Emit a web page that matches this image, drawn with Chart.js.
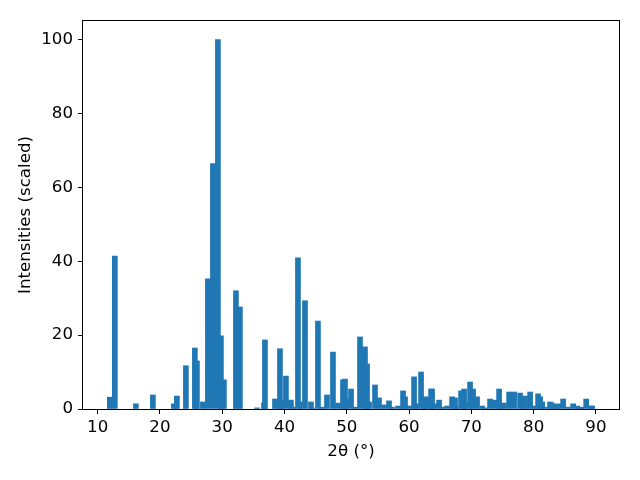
<!DOCTYPE html>
<html><head><meta charset="utf-8">
<script src="https://cdn.jsdelivr.net/npm/chart.js@4/dist/chart.umd.min.js"></script>
<style>html,body{margin:0;padding:0;background:#fff}canvas{display:block}</style>
</head><body>
<canvas id="c" width="640" height="480"></canvas>
<script>
const twoTheta = [11.96,12.76,16.14,18.87,22.24,22.72,24.17,25.61,25.94,26.90,27.70,28.51,29.31,29.79,30.27,32.20,32.84,35.57,36.70,36.86,38.47,39.27,39.43,40.23,41.03,41.36,42.16,42.48,43.29,44.25,44.41,45.37,46.02,46.82,47.78,48.59,49.39,49.71,49.87,50.68,51.32,52.12,52.92,53.25,53.57,54.53,55.17,55.98,56.78,57.26,58.23,59.03,59.35,59.99,60.80,61.12,61.92,62.40,62.72,63.53,63.69,64.01,64.81,65.29,66.10,66.90,67.38,67.54,68.34,68.83,68.99,69.79,70.27,70.91,71.72,72.20,73.00,73.65,74.45,74.61,75.25,76.06,76.86,77.82,78.30,78.62,79.43,79.91,80.71,81.04,81.36,81.84,82.64,82.96,83.28,83.60,83.93,84.73,85.53,86.34,86.98,87.30,87.62,88.43,89.23,89.39];
const intensity = [3.2,41.4,1.4,3.8,1.4,3.5,11.7,16.5,13.0,1.9,35.2,66.4,100,19.8,7.9,32.0,27.6,0.3,1.6,18.7,2.7,16.3,2.2,8.9,2.4,0.5,40.9,1.9,29.3,1.9,0.3,23.8,0.5,3.8,15.4,1.6,7.9,8.1,2.7,5.4,0.5,19.5,16.8,12.2,1.9,6.5,3.0,1.1,2.2,0.5,0.8,4.9,3.3,0.8,8.7,1.4,10.0,1.6,3.3,5.4,5.4,1.4,2.4,0.5,0.8,3.3,3.0,0.5,4.9,5.4,1.9,7.3,5.4,3.3,0.8,0.3,2.7,2.4,5.4,0.5,1.6,4.6,4.6,4.3,1.6,3.5,4.6,0.8,4.1,3.3,1.9,0.5,1.9,1.6,1.1,0.5,1.4,2.7,0.5,1.4,0.8,0.3,0.5,2.7,0.8,0.8];
const xTicks = [10,20,30,40,50,60,70,80,90];
const yTicks = [0,20,40,60,80,100];
const xTitle = '2θ (°)';
const yTitle = 'Intensities (scaled)';

const points = twoTheta.map((x, i) => ({x: x, y: intensity[i]}));
const FONT = 'DejaVu Sans';
const FS = 16.67;

const framePlugin = {
  id: 'frame',
  afterDatasetsDraw(chart) {
    const {ctx, chartArea: a} = chart;
    ctx.save();
    ctx.strokeStyle = '#000';
    ctx.lineWidth = 1;
    ctx.strokeRect(Math.round(a.left) - 0.5, Math.round(a.top) - 0.5,
                   Math.round(a.right - a.left) + 1, Math.round(a.bottom - a.top) + 1);
    ctx.restore();
  }
};

new Chart(document.getElementById('c'), {
  type: 'bar',
  data: {
    datasets: [{
      data: points,
      backgroundColor: '#1f77b4',
      borderWidth: 0,
      barThickness: 5,
      grouped: false
    }]
  },
  options: {
    responsive: false,
    animation: false,
    devicePixelRatio: 1,
    layout: {padding: {left: 0, right: 21, top: 21, bottom: 0}},
    plugins: {legend: {display: false}, tooltip: {enabled: false}},
    scales: {
      x: {
        type: 'linear',
        offset: false,
        min: 7.65, max: 93.7,
        afterBuildTicks: s => { s.ticks = xTicks.map(v => ({value: v})); },
        afterFit: s => { s.height = 71; },
        grid: {offset: false, drawOnChartArea: false, drawTicks: true, tickLength: 5, color: '#000', lineWidth: 1},
        border: {display: false},
        ticks: {color: '#000', font: {family: FONT, size: FS}, padding: 4, maxRotation: 0, autoSkip: false},
        title: {display: true, text: xTitle, color: '#000', font: {family: FONT, size: FS}, padding: {top: 0, bottom: 18}}
      },
      y: {
        min: 0, max: 105,
        afterBuildTicks: s => { s.ticks = yTicks.map(v => ({value: v})); },
        afterFit: s => { s.width = 83; },
        grid: {offset: false, drawOnChartArea: false, drawTicks: true, tickLength: 5, color: '#000', lineWidth: 1},
        border: {display: false},
        ticks: {color: '#000', font: {family: FONT, size: FS}, padding: 5, autoSkip: false},
        title: {display: true, text: yTitle, color: '#000', font: {family: FONT, size: FS}, padding: {top: 16, bottom: 0}}
      }
    }
  },
  plugins: [framePlugin]
});
</script>
</body></html>
